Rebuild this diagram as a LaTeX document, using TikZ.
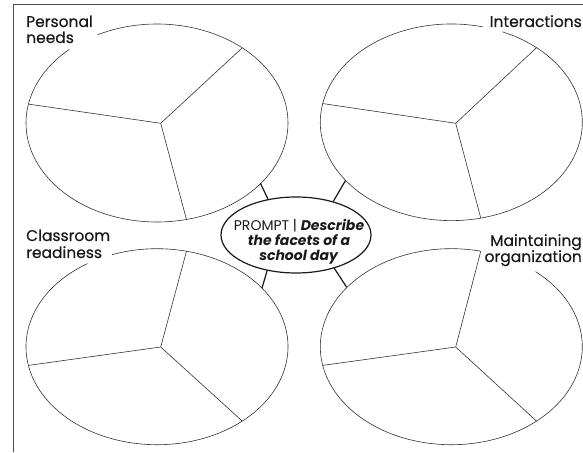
\documentclass[tikz,border=0pt]{standalone}
\usepackage{fontspec}
\setmainfont{Poppins}
\newfontface\lblfont[FakeBold=0.5]{Poppins}
\usetikzlibrary{calc,shapes.geometric}
\begin{document}
\begin{tikzpicture}[x=1pt,y=1pt,
  ring/.style={line width=0.6pt, draw=black!80},
  spoke/.style={line width=0.6pt, draw=black!80},
  conn/.style={line width=1.2pt, draw=black!90},
  frame/.style={line width=1pt, draw=black!70},
  lbl/.style={inner sep=0pt, font=\lblfont\fontsize{15.5}{16}\selectfont, text=black!90},
  promptbox/.style={ellipse, draw=black!90, line width=1.2pt, minimum width=150pt, minimum height=76pt, inner sep=0pt},
  prompttxt/.style={inner sep=0pt, align=center, font=\fontsize{14}{15}\selectfont, text=black!90}
]
\useasboundingbox (0,0) rectangle (583,452);
% frame
\draw[frame] (13,0) -- (13,447) -- (583,447);

% ---------- top-left ellipse ----------
\coordinate (cTL) at (157,329);
\coordinate (hTL) at (160.7,328.7);
\coordinate (TLa) at ($(cTL)+(49.4:131pt and 99pt)$);
\coordinate (TLb) at ($(cTL)+(169:131pt and 99pt)$);
\coordinate (TLc) at ($(cTL)+(283:131pt and 99pt)$);
\draw[ring] ($(cTL)+(132:131pt and 99pt)$) arc[start angle=132, end angle=477, x radius=131pt, y radius=99pt];
\draw[spoke] (hTL) -- (TLa);
\draw[spoke] (hTL) -- (TLb);
\draw[spoke] (hTL) -- (TLc);

% ---------- top-right ellipse ----------
\coordinate (cTR) at (451.3,329.7);
\coordinate (hTR) at (455.7,328.7);
\coordinate (TRa) at ($(cTR)+(49.4:131pt and 98.3pt)$);
\coordinate (TRb) at ($(cTR)+(169:131pt and 98.3pt)$);
\coordinate (TRc) at ($(cTR)+(283:131pt and 98.3pt)$);
\draw[ring] ($(cTR)+(76:131pt and 98.3pt)$) arc[start angle=76, end angle=427, x radius=131pt, y radius=98.3pt];
\draw[spoke] (hTR) -- (TRa);
\draw[spoke] (hTR) -- (TRb);
\draw[spoke] (hTR) -- (TRc);

% ---------- bottom-left ellipse ----------
\coordinate (cBL) at (157,105.3);
\coordinate (hBL) at (160.7,105);
\coordinate (BLa) at ($(cBL)+(77:131pt and 98pt)$);
\coordinate (BLb) at ($(cBL)+(191:131pt and 98pt)$);
\coordinate (BLc) at ($(cBL)+(310.6:131pt and 98pt)$);
\draw[ring] ($(cBL)+(122:131pt and 98pt)$) arc[start angle=122, end angle=470, x radius=131pt, y radius=98pt];
\draw[spoke] (hBL) -- (BLa);
\draw[spoke] (hBL) -- (BLb);
\draw[spoke] (hBL) -- (BLc);

% ---------- bottom-right ellipse ----------
\coordinate (cBR) at (451.3,105.3);
\coordinate (hBR) at (455.7,105);
\coordinate (BRa) at ($(cBR)+(77:131pt and 98pt)$);
\coordinate (BRb) at ($(cBR)+(191:131pt and 98pt)$);
\coordinate (BRc) at ($(cBR)+(310.6:131pt and 98pt)$);
\draw[ring] ($(cBR)+(77:131pt and 98pt)$) arc[start angle=77, end angle=410, x radius=131pt, y radius=98pt];
\draw[spoke] (hBR) -- (BRa);
\draw[spoke] (hBR) -- (BRb);
\draw[spoke] (hBR) -- (BRc);

% ---------- labels ----------
\node[lbl, anchor=base west] (pn1) at (26,425) {Personal};
\node[lbl, anchor=base west] (pn2) at (26,409) {needs};
\node[lbl, anchor=base east] (ia) at (582,425) {Interactions};
\node[lbl, anchor=base west] (cr1) at (26,211) {Classroom};
\node[lbl, anchor=base west] (cr2) at (26,194) {readiness};
\node[lbl, anchor=base east] (mo1) at (582,206) {Maintaining};
\node[lbl, anchor=base east] (mo2) at (582,190) {organization};

% ---------- centre prompt ----------
\node[promptbox] (prompt) at (296,217) {};
\node[prompttxt] (prompttext) at (299,210.5) {PROMPT | \textbf{\textit{Describe}}\\ \textbf{\textit{the facets of a}}\\ \textbf{\textit{school day}}};

% ---------- connectors ----------
\coordinate (kTL) at (260.5,268.5);
\coordinate (kTR) at (345.5,271.5);
\coordinate (kBL) at (262,164);
\coordinate (kBR) at (346.5,165);
\draw[conn] (prompt.128) -- (kTL);
\draw[conn] (prompt.42) -- (kTR);
\draw[conn] (prompt.231) -- (kBL);
\draw[conn] (prompt.319) -- (kBR);
\end{tikzpicture}
\end{document}
